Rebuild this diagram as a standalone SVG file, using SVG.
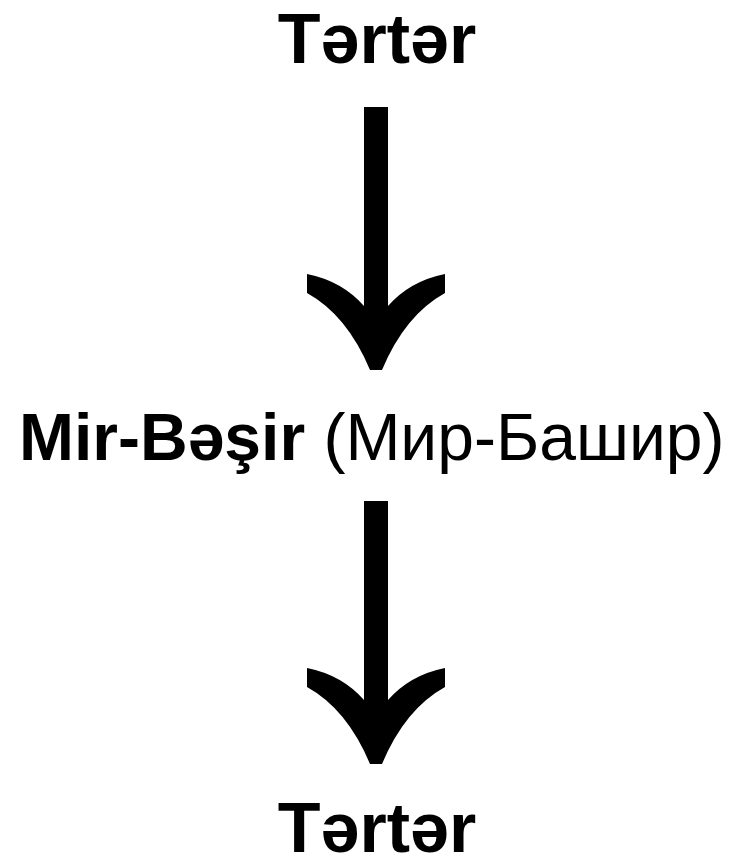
<svg xmlns="http://www.w3.org/2000/svg" xmlns:xlink="http://www.w3.org/1999/xlink" width="742" height="856" viewBox="0 0 742 856">
<style>
.t{font-family:"Liberation Sans",Arial,sans-serif;font-size:66px;fill:#000;}
.b{font-weight:bold;}
.h{font-size:70px;}
</style>
<defs>
<path id="arr" d="M307,274 Q342,281 364,306 L364,107 L388,107 L388,306 Q410,281 445,274 L445,293 Q405,315 382,370 L370,370 Q347,315 307,293 Z" fill="#000"/>
</defs>
<rect width="742" height="856" fill="#fff"/>
<g id="connectors">
<use xlink:href="#arr"/>
<use xlink:href="#arr" transform="translate(0,394)"/>
</g>
<g id="n1"><text class="t b h" x="377" y="63" text-anchor="middle">Tərtər</text></g>
<g id="n2"><text class="t" x="19" y="460"><tspan class="b">Mir-Bəşir</tspan> (Мир-Башир)</text></g>
<g id="n3"><text class="t b h" x="377" y="852" text-anchor="middle">Tərtər</text></g>
</svg>
